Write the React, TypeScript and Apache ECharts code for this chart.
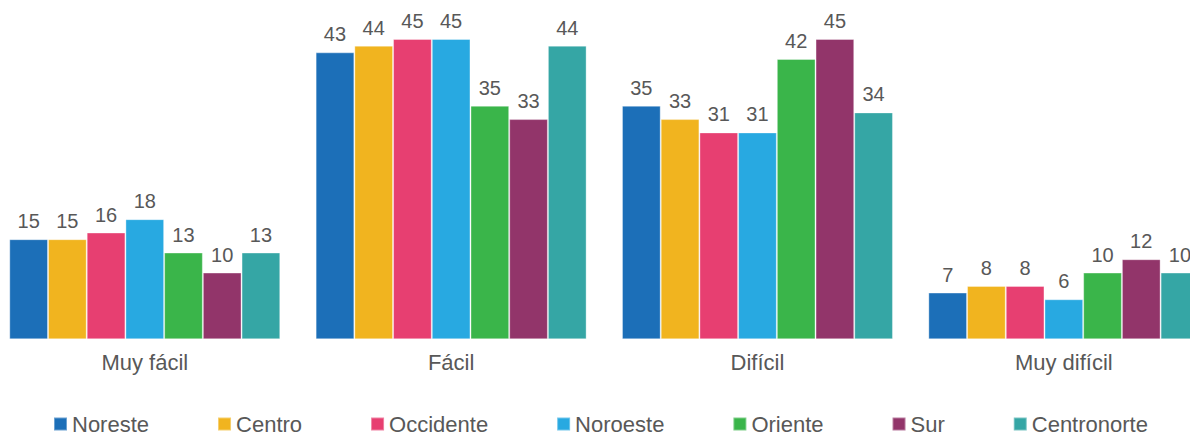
import React, { useEffect, useRef } from "react";
import * as echarts from "echarts";

const categories = ["Muy fácil", "Fácil", "Difícil", "Muy difícil"];
const seriesNames = ["Noreste", "Centro", "Occidente", "Noroeste", "Oriente", "Sur", "Centronorte"];
const noreste = [15, 43, 35, 7];
const centro = [15, 44, 33, 8];
const occidente = [16, 45, 31, 8];
const noroeste = [18, 45, 31, 6];
const oriente = [13, 35, 42, 10];
const sur = [10, 33, 45, 12];
const centronorte = [13, 44, 34, 10];
const seriesValues = [noreste, centro, occidente, noroeste, oriente, sur, centronorte];
const colors = ["#1c6fb8", "#f1b41f", "#e73f71", "#28a9e1", "#3ab54a", "#92356a", "#35a6a5"];

const FONT = "'Liberation Sans', Arial, Helvetica, sans-serif";
const TEXT = "#585858";

export default function App() {
  const ref = useRef<HTMLDivElement>(null);
  useEffect(() => {
    if (!ref.current) return;
    const chart = echarts.init(ref.current, undefined, { renderer: "svg" });
    chart.setOption({
      animation: false,
      textStyle: { fontFamily: FONT },
      grid: { left: 3.6, right: 21, top: 31, bottom: 96.7, containLabel: false },
      legend: {
        data: seriesNames,
        left: 60,
        top: 400,
        padding: [5, 5, 5, 5],
        icon: "rect",
        itemWidth: 13,
        itemHeight: 13,
        itemGap: 68,
        textStyle: { fontSize: 22, color: TEXT, fontFamily: FONT },
      },
      xAxis: {
        type: "category",
        data: categories,
        axisLine: { show: false },
        axisTick: { show: false },
        axisLabel: { fontSize: 22, color: TEXT, margin: 12, fontFamily: FONT },
      },
      yAxis: {
        type: "value",
        min: 0,
        max: 45,
        show: false,
        splitLine: { show: false },
      },
      series: seriesNames.map((name, i) => ({
        name,
        type: "bar",
        data: seriesValues[i],
        barGap: "0%",
        barCategoryGap: "11.55%",
        itemStyle: {
          color: colors[i],
          borderColor: "rgba(255,255,255,0.35)",
          borderWidth: 1,
        },
        label: {
          show: true,
          position: "top",
          distance: 8,
          fontSize: 20,
          color: TEXT,
          fontFamily: FONT,
        },
      })),
    });
    return () => chart.dispose();
  }, []);
  return (
    <div style={{ position: "relative", width: 1190, height: 428, overflow: "hidden" }}>
      <div ref={ref} style={{ position: "absolute", left: -20, top: 0, width: 1250, height: 428 }} />
    </div>
  );
}
